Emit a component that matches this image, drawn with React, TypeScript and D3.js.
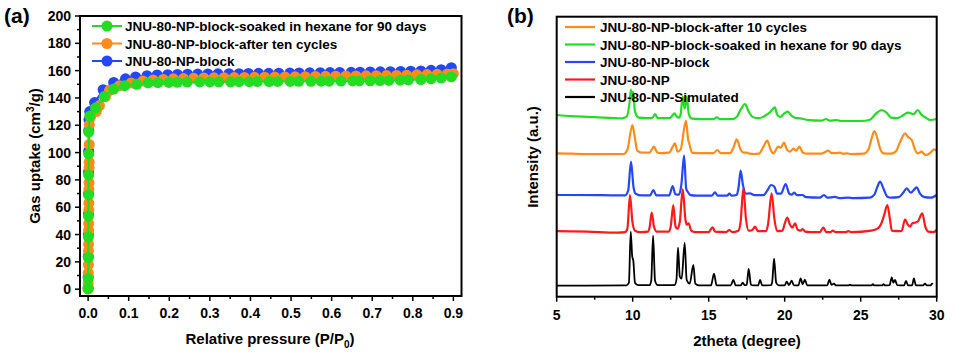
import React from "react";
import * as d3 from "d3";

// ---------- Panel (a): isotherms ----------
const blockP = [0, 0.0002, 0.0004, 0.0006, 0.0008, 0.001, 0.0012, 0.0014, 0.0016, 0.002, 0.004, 0.016, 0.037, 0.063, 0.092, 0.117, 0.145, 0.17, 0.196, 0.22, 0.245, 0.27, 0.295, 0.32, 0.347, 0.372, 0.395, 0.42, 0.445, 0.47, 0.497, 0.52, 0.546, 0.572, 0.596, 0.62, 0.648, 0.67, 0.695, 0.72, 0.745, 0.77, 0.795, 0.82, 0.845, 0.87, 0.895];
const blockV = [1, 9, 24, 40, 55, 70, 86, 101, 116, 124, 130, 136.6, 146, 151.4, 154, 155.4, 156.3, 156.8, 157, 157.2, 157.4, 157.5, 157.6, 157.7, 157.8, 157.8, 157.9, 158, 158, 158.1, 158.2, 158.3, 158.4, 158.5, 158.6, 158.7, 158.8, 158.9, 159, 159.1, 159.2, 159.4, 159.6, 159.8, 160.2, 160.7, 162.2];

const cyclesP = [0, 0.0002, 0.0004, 0.0006, 0.0008, 0.001, 0.0012, 0.0014, 0.0016, 0.0018, 0.002, 0.0022, 0.0024, 0.0026, 0.0028, 0.003, 0.006, 0.02, 0.028, 0.043, 0.053, 0.077, 0.106, 0.135, 0.16, 0.185, 0.21, 0.235, 0.26, 0.285, 0.31, 0.335, 0.36, 0.385, 0.41, 0.435, 0.46, 0.485, 0.51, 0.535, 0.56, 0.585, 0.61, 0.635, 0.66, 0.685, 0.71, 0.735, 0.76, 0.785, 0.81, 0.835, 0.86, 0.885, 0.9];
const cyclesV = [0, 4, 12, 18, 28, 33, 43, 48, 58, 63, 73, 78, 89, 93, 106, 120.4, 126, 130, 134.4, 141, 145.6, 149, 151, 152.5, 153.2, 153.6, 154, 154.2, 154.4, 154.6, 154.7, 154.8, 154.9, 155, 155.1, 155.2, 155.3, 155.4, 155.5, 155.6, 155.7, 155.8, 155.9, 156, 156.1, 156.2, 156.3, 156.4, 156.5, 156.7, 156.9, 157.1, 157.3, 157.5, 157.8];

const soakedP = [0, 0.0002, 0.0004, 0.0006, 0.0008, 0.001, 0.0012, 0.0014, 0.0016, 0.004, 0.018, 0.04, 0.063, 0.09, 0.12, 0.148, 0.172, 0.199, 0.22, 0.244, 0.275, 0.3, 0.322, 0.351, 0.372, 0.397, 0.417, 0.446, 0.467, 0.498, 0.519, 0.549, 0.574, 0.594, 0.623, 0.652, 0.668, 0.695, 0.719, 0.741, 0.769, 0.789, 0.82, 0.845, 0.87, 0.895];
const soakedV = [0.5, 7.8, 23.2, 38.3, 53.5, 69, 83.6, 99, 115, 126.7, 132.6, 141, 146.5, 149, 150, 151, 151.2, 151.4, 151.5, 151.6, 151.7, 151.7, 151.8, 151.8, 151.9, 151.9, 152, 152, 152.1, 152.1, 152.2, 152.2, 152.3, 152.3, 152.4, 152.5, 152.5, 152.6, 152.7, 152.8, 153, 153.2, 153.5, 154, 154.6, 155.5];

const isoNames = ["JNU-80-NP-block-soaked in hexane for 90 days", "JNU-80-NP-block-after ten cycles", "JNU-80-NP-block"];
const isoColors = ["#22dd22", "#ff8c1a", "#2347ff"];
const pressureTicks = [0, 0.1, 0.2, 0.3, 0.4, 0.5, 0.6, 0.7, 0.8, 0.9];
const uptakeTicks = [0, 20, 40, 60, 80, 100, 120, 140, 160, 180, 200];

// ---------- Panel (b): PXRD patterns [2theta, intensity a.u.] ----------
const simulated: [number, number][] = [[5, 11], [9.6, 11.3], [9.75, 14], [9.87, 65], [9.97, 40], [10.04, 36], [10.15, 14], [10.35, 11.5], [11.1, 11.5], [11.22, 16], [11.34, 61], [11.47, 16], [11.65, 11.5], [12.75, 11.5], [12.88, 17], [12.98, 49], [13.1, 20], [13.22, 18], [13.42, 54], [13.55, 17], [13.75, 13], [13.99, 31.7], [14.12, 13], [14.35, 11.3], [15.15, 11.3], [15.35, 23], [15.52, 11.3], [16.45, 11.3], [16.62, 16.7], [16.78, 11.3], [17.1, 11.3], [17.24, 14], [17.36, 11.5], [17.5, 12], [17.63, 27.7], [17.78, 12], [17.95, 11.3], [18.25, 11.3], [18.38, 16.7], [18.52, 11.3], [19.1, 11.5], [19.18, 15], [19.3, 38], [19.44, 14], [19.6, 11.3], [20.0, 11.3], [20.13, 15], [20.28, 11.5], [20.46, 16], [20.6, 11.3], [20.9, 11.3], [21.05, 18.4], [21.18, 12.5], [21.33, 17], [21.48, 11.3], [22.8, 11.3], [22.94, 17], [23.08, 11.8], [23.24, 13], [23.38, 11.3], [24.2, 11.3], [24.3, 12], [24.4, 11.3], [25.7, 11.3], [25.8, 12.5], [25.9, 11.3], [26.4, 11.3], [26.5, 12.5], [26.6, 11.3], [26.9, 11.5], [27.04, 19.4], [27.15, 14], [27.26, 16.7], [27.4, 11.5], [27.85, 11.3], [27.98, 15.7], [28.12, 11.3], [28.38, 11.3], [28.5, 18.4], [28.63, 11.3], [29.1, 11.3], [29.23, 13], [29.35, 11.3], [29.6, 11.3], [29.7, 13], [29.75, 12.5]];

const np: [number, number][] = [[5, 65.5], [7, 65], [9, 64], [9.5, 64.5], [9.65, 68], [9.82, 101.7], [9.98, 75], [10.15, 66], [10.5, 64.5], [11.0, 65], [11.12, 70], [11.25, 84], [11.4, 70], [11.6, 65], [12.35, 65], [12.5, 70], [12.67, 91.7], [12.82, 70], [12.95, 68], [13.1, 75], [13.29, 107.4], [13.48, 76], [13.56, 72], [13.68, 73.4], [13.85, 66], [14.1, 64.5], [15.0, 64.5], [15.12, 67], [15.26, 69.4], [15.42, 65], [16.15, 64.5], [16.36, 66.7], [16.55, 64.5], [16.95, 66], [17.1, 75], [17.28, 108.4], [17.45, 78], [17.62, 66], [17.85, 66.5], [18.05, 70], [18.25, 65.5], [18.75, 65.5], [18.9, 72], [19.14, 103.4], [19.32, 78], [19.5, 65.5], [19.85, 66], [20.0, 73], [20.17, 79], [20.35, 72], [20.5, 69], [20.68, 73.4], [20.85, 67], [21.05, 66], [21.18, 67.7], [21.35, 65], [21.7, 64.5], [22.3, 64.5], [22.54, 69], [22.75, 64.5], [23.0, 64.5], [23.16, 66], [23.35, 64.5], [24.0, 64.5], [24.18, 65.5], [24.4, 64.5], [25.7, 66], [26.1, 68], [26.35, 73], [26.55, 82], [26.75, 91.7], [26.92, 78], [27.05, 66], [27.5, 65.5], [27.7, 66], [27.92, 77.4], [28.1, 72], [28.25, 70], [28.4, 73.5], [28.57, 74], [28.75, 75], [29.05, 83.4], [29.25, 70], [29.45, 65], [29.8, 64.5], [30, 67]];

const npBlock: [number, number][] = [[5, 101.7], [8, 101.5], [9.5, 101.3], [9.7, 106], [9.89, 135], [10.05, 110], [10.2, 103], [10.6, 101.3], [11.15, 101.3], [11.36, 106.7], [11.55, 101.3], [12.4, 101.3], [12.63, 110.7], [12.8, 102.5], [13.05, 102], [13.2, 112], [13.38, 141], [13.52, 108], [13.62, 105], [13.8, 101.5], [14.2, 101], [15.2, 101], [15.41, 104.4], [15.6, 101], [16.2, 101], [16.36, 103], [16.5, 101], [16.85, 102], [16.97, 110], [17.1, 126], [17.25, 112], [17.45, 103], [17.72, 103.4], [18.0, 101.5], [18.6, 101.5], [18.85, 106], [19.1, 111.7], [19.32, 110], [19.5, 103], [19.75, 103], [20.06, 112.7], [20.3, 103], [20.45, 102], [20.63, 104], [20.8, 101.5], [21.16, 101.7], [21.4, 99.5], [22.3, 99], [22.59, 101.7], [22.8, 99], [23.31, 99.8], [23.6, 98.5], [24.18, 99], [24.5, 98.5], [25.6, 99], [25.9, 102], [26.1, 110], [26.27, 115], [26.5, 108], [26.75, 100], [27.0, 99], [27.5, 99.5], [27.8, 104], [28.03, 108.4], [28.29, 104], [28.45, 106], [28.68, 109.4], [28.9, 103], [29.2, 99.5], [29.6, 99], [30, 101.7]];

const afterCycles: [number, number][] = [[5, 143.4], [6, 143], [8, 142.5], [9.4, 142.7], [9.65, 147], [9.98, 171.7], [10.15, 158], [10.3, 146], [10.6, 144], [11.1, 144], [11.25, 147], [11.4, 150], [11.6, 144.5], [11.85, 143.5], [12.4, 144], [12.6, 149], [12.78, 153.4], [12.95, 145], [13.15, 147], [13.5, 176], [13.65, 157], [13.72, 153.4], [13.9, 144], [14.3, 143.5], [15.3, 143.5], [15.57, 146.7], [15.8, 143.5], [16.4, 143.5], [16.65, 150], [16.84, 157.4], [17.1, 147], [17.3, 144], [17.5, 144], [17.7, 143], [17.93, 142.7], [18.3, 143], [18.6, 150], [18.85, 156], [19.05, 148], [19.25, 143.3], [19.58, 150], [19.75, 149], [19.95, 154], [20.15, 147], [20.35, 145], [20.57, 148], [20.75, 146], [20.96, 150], [21.2, 144], [21.5, 143], [22.4, 143], [22.87, 146], [23.1, 143.5], [23.4, 143.5], [23.64, 144], [23.85, 143], [24.08, 143.3], [24.4, 142.5], [25.2, 143], [25.5, 147], [25.75, 160], [25.9, 165.7], [26.1, 158], [26.3, 147], [26.5, 143.3], [27.0, 143], [27.3, 145], [27.6, 155], [27.92, 163.4], [28.1, 160], [28.36, 156.7], [28.55, 148], [28.75, 143.3], [29.0, 145], [29.15, 143], [29.3, 141.7], [29.6, 144], [29.82, 147.4], [30, 146]];

const soakedXrd: [number, number][] = [[5, 181.7], [6, 180.5], [7.5, 179.5], [9.3, 178.4], [9.6, 180], [9.8, 195], [9.88, 207], [9.95, 198], [10.02, 205], [10.15, 185], [10.4, 179], [11, 178.5], [11.3, 179], [11.47, 182.7], [11.65, 178.5], [12.45, 178.5], [12.6, 181], [12.74, 183.4], [12.9, 180], [13.05, 179], [13.15, 182], [13.29, 200], [13.42, 188], [13.55, 200], [13.7, 182], [13.9, 178], [14.5, 177.5], [15.3, 177.5], [15.53, 179.4], [15.75, 177.5], [16.5, 177.5], [16.85, 180], [17.1, 187], [17.39, 192.7], [17.6, 186], [17.93, 179.4], [18.3, 178.5], [18.6, 180], [19.0, 184], [19.36, 189.4], [19.5, 182], [19.7, 179.7], [19.95, 183], [20.2, 185], [20.45, 181], [20.68, 179], [20.9, 178.5], [21.23, 177.7], [21.6, 176.5], [22.4, 176], [22.72, 177.7], [22.95, 176], [23.42, 176.7], [23.7, 175.7], [25.0, 175.7], [25.6, 177], [26.0, 183], [26.38, 186.7], [26.7, 184], [27.0, 179], [27.4, 178.5], [27.75, 181], [28.1, 184], [28.3, 183.5], [28.47, 182.5], [28.75, 186.7], [29.0, 182], [29.3, 179], [29.56, 176.7], [30, 177.7]];

const xrdNames = ["JNU-80-NP-block-after 10 cycles", "JNU-80-NP-block-soaked in hexane for 90 days", "JNU-80-NP-block", "JNU-80-NP", "JNU-80-NP-Simulated"];
const xrdColors = ["#ff8c1a", "#22dd22", "#2347ff", "#ff1a1a", "#000000"];
const thetaTicks = [5, 10, 15, 20, 25, 30];

const FONT = "Arial, 'Liberation Sans', sans-serif";

export default function App() {
  // panel (a) scales
  const xA = d3.scaleLinear().domain([-0.02, 0.92]).range([80, 461.5]);
  const yA = d3.scaleLinear().domain([-5, 200]).range([296, 16]);
  // panel (b) scales
  const xB = d3.scaleLinear().domain([5, 30]).range([556.7, 936.7]);
  const yB = d3.scaleLinear().domain([0, 280]).range([296.7, 16.7]);

  const isoSeries = [
    { p: soakedP, v: soakedV },
    { p: cyclesP, v: cyclesV },
    { p: blockP, v: blockV },
  ];
  const lineA = d3.line<[number, number]>().x((d) => xA(d[0])).y((d) => yA(d[1]));
  const lineB = d3.line<[number, number]>().x((d) => xB(d[0])).y((d) => yB(d[1])).curve(d3.curveMonotoneX);
  const xrdSeries = [afterCycles, soakedXrd, npBlock, np, simulated];

  const minorA = d3.range(0.05, 0.92, 0.1);
  const minorYA = d3.range(10, 200, 20);
  const minorB = d3.range(7.5, 30, 5);

  return (
    <svg width={954} height={353} style={{ position: "absolute", left: 0, top: 0, background: "#fff" }} fontFamily={FONT} fontWeight="bold">
      <rect x={0} y={0} width={954} height={353} fill="#fff" />
      {/* ---------- Panel (a) ---------- */}
      <text x={4} y={23} fontSize={21}>(a)</text>
      {/* series: draw blue first, then orange, then green on top */}
      {[2, 1, 0].map((i) => {
        const s = isoSeries[i];
        const pts: [number, number][] = s.p.map((p, k) => [p, s.v[k]]);
        return (
          <g key={"iso" + i}>
            <path d={lineA(pts) || ""} fill="none" stroke={isoColors[i]} strokeWidth={2} />
            {pts.map((d, k) => (
              <circle key={k} cx={xA(d[0])} cy={yA(d[1])} r={5.5} fill={isoColors[i]} />
            ))}
          </g>
        );
      })}
      <rect x={80} y={16} width={381.5} height={280} fill="none" stroke="#000" strokeWidth={2} />
      {pressureTicks.map((t) => (
        <g key={"xa" + t}>
          <line x1={xA(t)} x2={xA(t)} y1={296} y2={301} stroke="#000" strokeWidth={1.5} />
          <text x={xA(t)} y={318} fontSize={14} textAnchor="middle">{t.toFixed(1)}</text>
        </g>
      ))}
      {minorA.map((t) => (
        <line key={"xam" + t} x1={xA(t)} x2={xA(t)} y1={296} y2={299} stroke="#000" strokeWidth={1.5} />
      ))}
      {uptakeTicks.map((t) => (
        <g key={"ya" + t}>
          <line x1={75} x2={80} y1={yA(t)} y2={yA(t)} stroke="#000" strokeWidth={1.5} />
          <text x={71} y={yA(t) + 5} fontSize={14} textAnchor="end">{t}</text>
        </g>
      ))}
      {minorYA.map((t) => (
        <line key={"yam" + t} x1={77} x2={80} y1={yA(t)} y2={yA(t)} stroke="#000" strokeWidth={1.5} />
      ))}
      <text x={270} y={344} fontSize={15} textAnchor="middle">
        Relative pressure (P/P<tspan fontSize={10} dy={4}>0</tspan><tspan dy={-4}>)</tspan>
      </text>
      <text transform="translate(40,156) rotate(-90)" fontSize={15} textAnchor="middle">
        Gas uptake (cm<tspan fontSize={10} dy={-6}>3</tspan><tspan dy={6}>/g)</tspan>
      </text>
      {/* legend (a) */}
      {isoNames.map((name, i) => {
        const y = 26 + i * 17.5;
        return (
          <g key={"la" + i}>
            <line x1={92} x2={122} y1={y} y2={y} stroke={isoColors[i]} strokeWidth={2} />
            <circle cx={107} cy={y} r={5.5} fill={isoColors[i]} />
            <text x={125} y={y + 5} fontSize={13.5}>{name}</text>
          </g>
        );
      })}

      {/* ---------- Panel (b) ---------- */}
      <text x={507} y={23} fontSize={21}>(b)</text>
      {xrdSeries.map((s, i) => (
        <path key={"xrd" + i} d={lineB(s) || ""} fill="none" stroke={xrdColors[i]} strokeWidth={i === 4 ? 1.8 : 2.2} strokeLinejoin="round" />
      ))}
      <rect x={556.7} y={16.7} width={380} height={280} fill="none" stroke="#000" strokeWidth={2} />
      {thetaTicks.map((t) => (
        <g key={"xb" + t}>
          <line x1={xB(t)} x2={xB(t)} y1={296.7} y2={301.7} stroke="#000" strokeWidth={1.5} />
          <text x={xB(t)} y={320} fontSize={14} textAnchor="middle">{t}</text>
        </g>
      ))}
      {minorB.map((t) => (
        <line key={"xbm" + t} x1={xB(t)} x2={xB(t)} y1={296.7} y2={299.7} stroke="#000" strokeWidth={1.5} />
      ))}
      <text x={747} y={346} fontSize={15} textAnchor="middle">2theta (degree)</text>
      <text transform="translate(538,157) rotate(-90)" fontSize={15} textAnchor="middle">Intensity (a.u.)</text>
      {xrdNames.map((name, i) => {
        const y = 27 + i * 17.5;
        return (
          <g key={"lb" + i}>
            <line x1={565} x2={595} y1={y} y2={y} stroke={xrdColors[i]} strokeWidth={2.2} />
            <text x={600} y={y + 5} fontSize={13.5}>{name}</text>
          </g>
        );
      })}
    </svg>
  );
}
